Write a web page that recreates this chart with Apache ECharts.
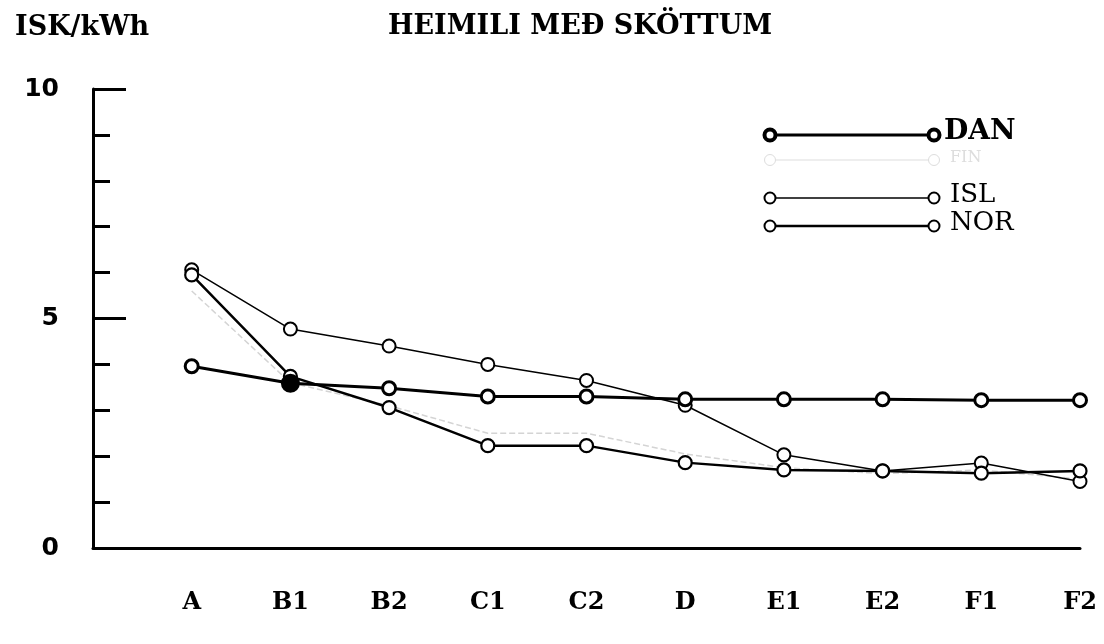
<!DOCTYPE html>
<html><head><meta charset="utf-8">
<script src="https://cdn.jsdelivr.net/npm/echarts@6/dist/echarts.min.js"></script>
<style>html,body{margin:0;padding:0;background:#fff}#c{width:1104px;height:644px}</style>
</head><body><div id="c"></div>
<script>
const categories = ['A','B1','B2','C1','C2','D','E1','E2','F1','F2'];
const DAN = [3.96, 3.59, 3.48, 3.30, 3.30, 3.24, 3.24, 3.24, 3.22, 3.22];
const FIN = [5.6, 3.6, 3.1, 2.5, 2.5, 2.05, 1.75, 1.62, 1.7, 1.5];
const ISL = [6.06, 4.77, 4.40, 4.00, 3.65, 3.11, 2.03, 1.68, 1.85, 1.45];
const NOR = [5.95, 3.74, 3.06, 2.23, 2.23, 1.86, 1.70, 1.68, 1.63, 1.68];
const yTickLabels = {0:'0', 5:'5', 10:'10'};

const F = '"DejaVu Serif", serif';
const toPts = arr => arr.map((v,i)=>[i+1, v]);
const chart = echarts.init(document.getElementById('c'));
const circle = (bw) => ({color:'#fff', borderColor:'#000', borderWidth:bw});
const danData = toPts(DAN).map((p,i)=> i===1 ? {value:p, symbolSize:16, itemStyle:{color:'#000',borderColor:'#000'}} : p);

const leg = (y, name, lw, bw, fsz, fw, col, tx) => [
  {type:'line', shape:{x1:772,y1:y,x2:930,y2:y}, style:{stroke:col, lineWidth:lw}},
  {type:'circle', shape:{cx:770,cy:y,r:5.5}, style:{fill:'#fff', stroke:col, lineWidth:bw}},
  {type:'circle', shape:{cx:934,cy:y,r:5.5}, style:{fill:'#fff', stroke:col, lineWidth:bw}},
  {type:'text', left:tx, top:y-fsz*0.62, style:{text:name, font:fw+' '+fsz+'px '+F, fill:col}}
];

chart.setOption({
  animation:false,
  backgroundColor:'#fff',
  title:{text:'HEIMILI MEÐ SKÖTTUM', left:383, top:8,
    textStyle:{fontFamily:F, fontWeight:'bold', fontSize:27, color:'#000'}},
  grid:{left:93, right:24, top:89, bottom:96},
  xAxis:{type:'value', min:0, max:10, interval:1,
    axisLine:{lineStyle:{color:'#000', width:3}}, axisTick:{show:false}, splitLine:{show:false},
    axisLabel:{margin:43, color:'#000', fontFamily:F, fontWeight:'bold', fontSize:24,
      formatter:v=> (v>=1 && v<=10) ? categories[v-1] : ''}},
  yAxis:[
    {type:'value', min:0, max:10, interval:1, position:'left',
      name:'ISK/kWh', nameLocation:'end', nameGap:48,
      nameTextStyle:{fontFamily:F, fontWeight:'bold', fontSize:27, color:'#000', align:'left', padding:[0,0,0,-78]},
      axisLine:{show:true, lineStyle:{color:'#000', width:3}},
      axisTick:{show:true, inside:true, length:17, lineStyle:{color:'#000', width:3}},
      splitLine:{show:false},
      axisLabel:{margin:34, color:'#000', fontFamily:'"DejaVu Sans", sans-serif', fontWeight:'bold', fontSize:25,
        formatter:v=> yTickLabels[v] !== undefined ? yTickLabels[v] : ''}},
    {type:'value', min:0, max:10, interval:5, position:'left',
      axisLine:{show:false}, splitLine:{show:false}, axisLabel:{show:false},
      axisTick:{show:true, inside:true, length:33, lineStyle:{color:'#000', width:3}}}
  ],
  series:[
    {name:'FIN', type:'line', data:toPts(FIN), symbol:'none', z:1,
      lineStyle:{color:'#d4d4d4', width:1.5, type:'dashed'}},
    {name:'ISL', type:'line', data:toPts(ISL), symbol:'circle', symbolSize:13, z:2,
      lineStyle:{color:'#000', width:1.5}, itemStyle:circle(2)},
    {name:'NOR', type:'line', data:toPts(NOR), symbol:'circle', symbolSize:13, z:3,
      lineStyle:{color:'#000', width:2.5}, itemStyle:circle(2.2)},
    {name:'DAN', type:'line', data:danData, symbol:'circle', symbolSize:13, z:4,
      lineStyle:{color:'#000', width:3}, itemStyle:circle(3)}
  ],
  graphic:[].concat(
    leg(135,'DAN',3,4,28,'bold','#000',944),
    leg(160,'FIN',1,1,16,'normal','#ddd',950),
    leg(198,'ISL',1.5,2,26,'normal','#000',950),
    leg(226,'NOR',2.5,2,26,'normal','#000',950)
  )
});
</script></body></html>
